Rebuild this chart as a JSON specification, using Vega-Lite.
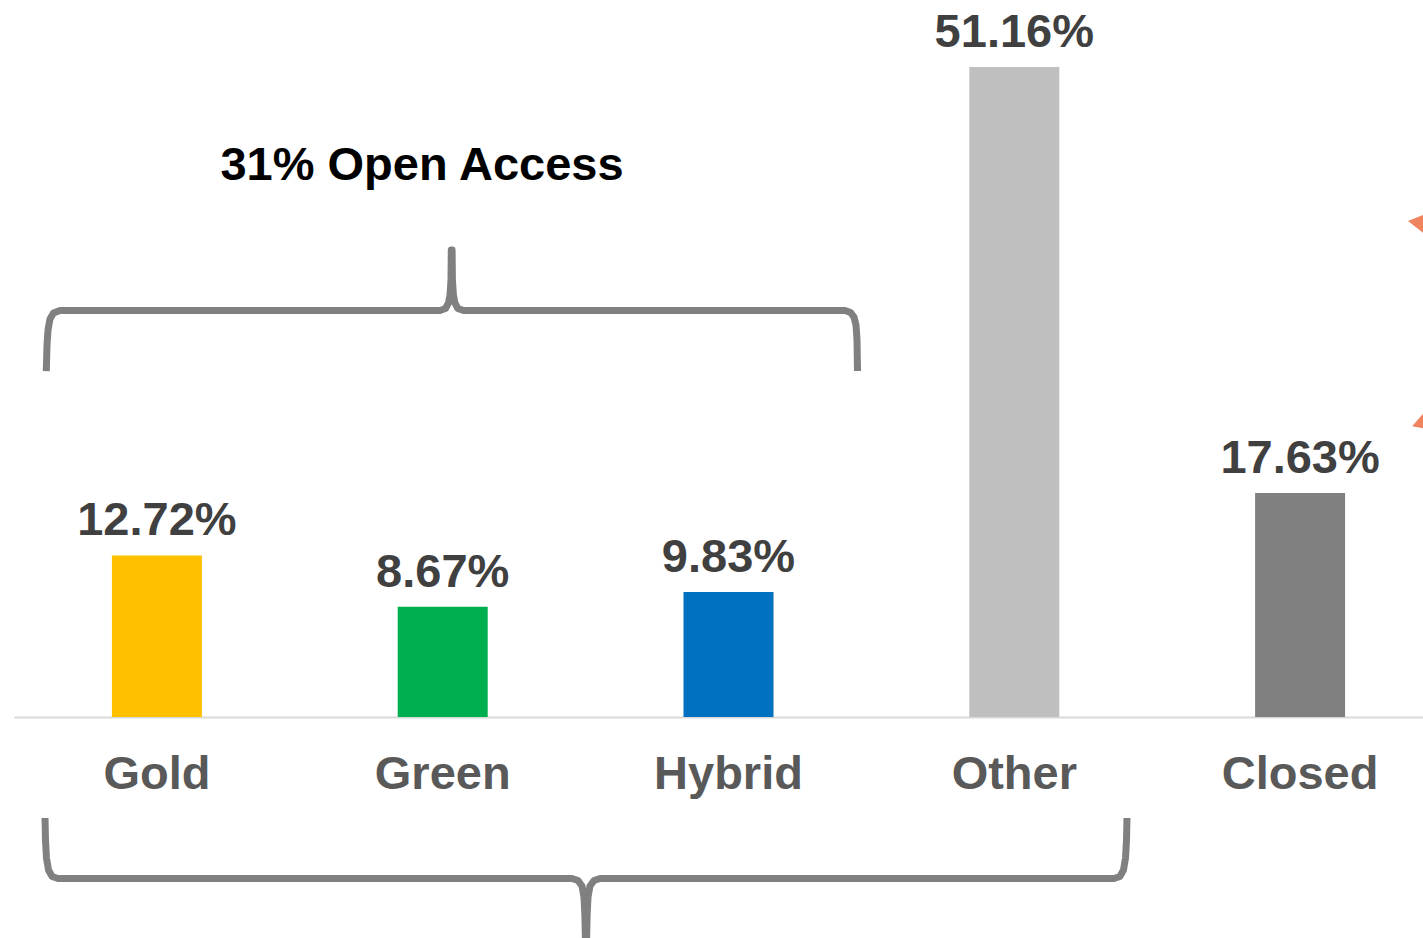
{
  "$schema": "https://vega.github.io/schema/vega-lite/v6.json",
  "width": 1409,
  "height": 938,
  "autosize": {"type": "none"},
  "padding": {"left": 14, "top": 0, "right": 0, "bottom": 0},
  "background": "white",
  "config": {"view": {"stroke": null}, "font": "Liberation Sans"},
  "datasets": {
    "bars": [
      {"category": "Gold", "share": 0.1272},
      {"category": "Green", "share": 0.0867},
      {"category": "Hybrid", "share": 0.0983},
      {"category": "Other", "share": 0.5116},
      {"category": "Closed", "share": 0.1763}
    ],
    "braces": [
      {"brace": "open", "i": 1, "pos": -0.3871, "share": 0.2723},
      {"brace": "open", "i": 2, "pos": -0.3846, "share": 0.2928},
      {"brace": "open", "i": 3, "pos": -0.3811, "share": 0.3046},
      {"brace": "open", "i": 4, "pos": -0.3741, "share": 0.3133},
      {"brace": "open", "i": 5, "pos": -0.3619, "share": 0.3180},
      {"brace": "open", "i": 6, "pos": -0.3392, "share": 0.3200},
      {"brace": "open", "i": 7, "pos": 0.9895, "share": 0.3200},
      {"brace": "open", "i": 8, "pos": 1.0087, "share": 0.3215},
      {"brace": "open", "i": 9, "pos": 1.0192, "share": 0.3259},
      {"brace": "open", "i": 10, "pos": 1.0245, "share": 0.3322},
      {"brace": "open", "i": 11, "pos": 1.0280, "share": 0.3440},
      {"brace": "open", "i": 12, "pos": 1.0290, "share": 0.3676},
      {"brace": "open", "i": 13, "pos": 1.0318, "share": 0.3676},
      {"brace": "open", "i": 14, "pos": 1.0329, "share": 0.3440},
      {"brace": "open", "i": 15, "pos": 1.0364, "share": 0.3322},
      {"brace": "open", "i": 16, "pos": 1.0416, "share": 0.3259},
      {"brace": "open", "i": 17, "pos": 1.0521, "share": 0.3215},
      {"brace": "open", "i": 18, "pos": 1.0713, "share": 0.3200},
      {"brace": "open", "i": 19, "pos": 2.4056, "share": 0.3200},
      {"brace": "open", "i": 20, "pos": 2.4248, "share": 0.3184},
      {"brace": "open", "i": 21, "pos": 2.4371, "share": 0.3148},
      {"brace": "open", "i": 22, "pos": 2.4441, "share": 0.3085},
      {"brace": "open", "i": 23, "pos": 2.4476, "share": 0.2967},
      {"brace": "open", "i": 24, "pos": 2.4493, "share": 0.2723},
      {"brace": "free", "i": 1, "pos": -0.3916, "share": -0.0795},
      {"brace": "free", "i": 2, "pos": -0.3899, "share": -0.0968},
      {"brace": "free", "i": 3, "pos": -0.3864, "share": -0.1110},
      {"brace": "free", "i": 4, "pos": -0.3794, "share": -0.1204},
      {"brace": "free", "i": 5, "pos": -0.3671, "share": -0.1255},
      {"brace": "free", "i": 6, "pos": -0.3462, "share": -0.1271},
      {"brace": "free", "i": 7, "pos": 1.4510, "share": -0.1271},
      {"brace": "free", "i": 8, "pos": 1.4720, "share": -0.1287},
      {"brace": "free", "i": 9, "pos": 1.4860, "share": -0.1330},
      {"brace": "free", "i": 10, "pos": 1.4930, "share": -0.1417},
      {"brace": "free", "i": 11, "pos": 1.4960, "share": -0.1558},
      {"brace": "free", "i": 12, "pos": 1.4983, "share": -0.1795},
      {"brace": "free", "i": 13, "pos": 1.5017, "share": -0.1795},
      {"brace": "free", "i": 14, "pos": 1.5040, "share": -0.1558},
      {"brace": "free", "i": 15, "pos": 1.5070, "share": -0.1417},
      {"brace": "free", "i": 16, "pos": 1.5140, "share": -0.1330},
      {"brace": "free", "i": 17, "pos": 1.5280, "share": -0.1287},
      {"brace": "free", "i": 18, "pos": 1.5490, "share": -0.1271},
      {"brace": "free", "i": 19, "pos": 3.3462, "share": -0.1271},
      {"brace": "free", "i": 20, "pos": 3.3671, "share": -0.1255},
      {"brace": "free", "i": 21, "pos": 3.3794, "share": -0.1204},
      {"brace": "free", "i": 22, "pos": 3.3864, "share": -0.1110},
      {"brace": "free", "i": 23, "pos": 3.3899, "share": -0.0968},
      {"brace": "free", "i": 24, "pos": 3.3916, "share": -0.0795}
    ]
  },
  "resolve": {"scale": {"x": "independent"}},
  "layer": [
    {
      "data": {"name": "bars"},
      "encoding": {
        "x": {
          "field": "category",
          "type": "nominal",
          "sort": null,
          "scale": {"range": [0, 1429], "paddingInner": 0, "paddingOuter": 0},
          "axis": {
            "orient": "bottom",
            "offset": -221,
            "title": null,
            "labelAngle": 0,
            "labelFont": "Liberation Sans",
            "labelFontSize": 47,
            "labelFontWeight": "bold",
            "labelColor": "#595959",
            "labelBaseline": "alphabetic",
            "labelPadding": 71,
            "ticks": false,
            "tickSize": 0,
            "grid": false,
            "domainColor": "#D9D9D9",
            "domainWidth": 2
          }
        },
        "y": {
          "field": "share",
          "type": "quantitative",
          "scale": {"domain": [-0.17395, 0.56434], "nice": false, "zero": false},
          "axis": null
        }
      },
      "layer": [
        {
          "mark": {"type": "bar", "width": 90},
          "encoding": {
            "y2": {"datum": 0},
            "color": {
              "field": "category",
              "type": "nominal",
              "scale": {
                "domain": ["Gold", "Green", "Hybrid", "Other", "Closed"],
                "range": ["#FFC000", "#00B050", "#0070C0", "#BFBFBF", "#808080"]
              },
              "legend": null
            }
          }
        },
        {
          "mark": {
            "type": "text",
            "font": "Liberation Sans",
            "fontSize": 47,
            "fontWeight": "bold",
            "color": "#404040",
            "baseline": "alphabetic",
            "align": "center",
            "dy": -20
          },
          "encoding": {
            "text": {"field": "share", "type": "quantitative", "format": ".2%"}
          }
        }
      ]
    },
    {
      "encoding": {
        "x": {
          "field": "pos",
          "type": "quantitative",
          "scale": {"domain": [-0.5, 4.5], "range": [0, 1430], "nice": false, "zero": false},
          "axis": null
        },
        "y": {
          "field": "share",
          "type": "quantitative",
          "scale": {"domain": [-0.17395, 0.56434], "nice": false, "zero": false},
          "axis": null
        }
      },
      "layer": [
        {
          "data": {"name": "braces"},
          "mark": {
            "type": "line",
            "color": "#808080",
            "strokeWidth": 7,
            "strokeCap": "butt",
            "strokeJoin": "round",
            "interpolate": "linear"
          },
          "encoding": {
            "detail": {"field": "brace", "type": "nominal"},
            "order": {"field": "i", "type": "quantitative"}
          }
        },
        {
          "data": {"values": [{"label": "31% Open Access", "pos": 0.9266, "share": 0.4227}]},
          "mark": {
            "type": "text",
            "font": "Liberation Sans",
            "fontSize": 47,
            "fontWeight": "bold",
            "color": "#000000",
            "baseline": "alphabetic",
            "align": "center"
          },
          "encoding": {"text": {"field": "label", "type": "nominal"}}
        },
        {
          "data": {"values": [{"pos": 4.415, "share": 0.3891}]},
          "mark": {"type": "point", "shape": "triangle-left", "filled": true, "opacity": 1, "color": "#F0845F", "size": 750, "angle": 8.5},
          "encoding": {}
        },
        {
          "data": {"values": [{"pos": 4.428, "share": 0.2319}]},
          "mark": {"type": "point", "shape": "triangle-left", "filled": true, "opacity": 1, "color": "#F0845F", "size": 750, "angle": 341},
          "encoding": {}
        }
      ]
    }
  ]
}
